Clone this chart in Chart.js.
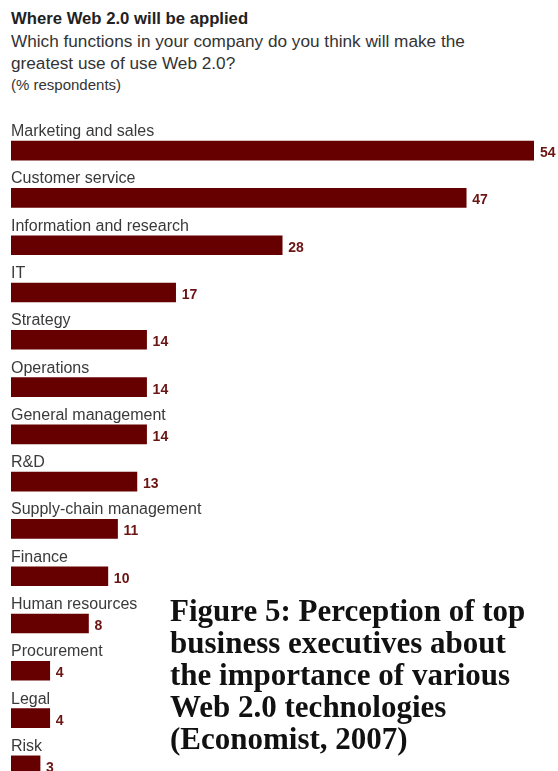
<!DOCTYPE html>
<html>
<head>
<meta charset="utf-8">
<script src="https://cdn.jsdelivr.net/npm/chart.js@4.4.1/dist/chart.umd.min.js"></script>
<style>
  html, body { margin: 0; padding: 0; background: #fff; }
  body { width: 558px; height: 771px; overflow: hidden; position: relative; }
  .head { position: absolute; left: 11px; top: 8px; color: #333; font-family: "Liberation Sans", Arial, sans-serif; }
  .head .t { font-weight: bold; font-size: 16.7px; line-height: 22px; color: #222; }
  .head .s { font-size: 17.2px; line-height: 22px; }
  .head .u { font-size: 15px; line-height: 22px; }
  #barChart { position: absolute; left: 0; top: 0; }
  .caption { position: absolute; left: 170px; top: 595px; white-space: nowrap; font-family: "Liberation Serif", "DejaVu Serif", serif; font-weight: bold; font-size: 31px; line-height: 32px; color: #111; }
</style>
</head>
<body>
<div class="head">
  <div class="t">Where Web 2.0 will be applied</div>
  <div class="s">Which functions in your company do you think will make the<br>greatest use of use Web 2.0?</div>
  <div class="u">(% respondents)</div>
</div>
<canvas id="barChart" width="558" height="800"></canvas>
<div class="caption">Figure 5: Perception of top<br>business executives about<br>the importance of various<br>Web 2.0 technologies<br>(Economist, 2007)</div>
<script>
// Functions and share of respondents (%)
const categories = ['Marketing and sales', 'Customer service', 'Information and research', 'IT', 'Strategy',
    'Operations', 'General management', 'R&D', 'Supply-chain management', 'Finance',
    'Human resources', 'Procurement', 'Legal', 'Risk'];
const respondents = [54, 47, 28, 17, 14, 14, 14, 13, 11, 10, 8, 4, 4, 3];

const barColor = '#660000';

// names go above each bar, values just after its end
const barLabels = {
    id: 'barLabels',
    afterDatasetsDraw(chart) {
        const ctx = chart.ctx;
        const meta = chart.getDatasetMeta(0);
        ctx.save();
        meta.data.forEach((bar, i) => {
            const half = bar.height / 2;
            ctx.textAlign = 'left';
            ctx.textBaseline = 'alphabetic';
            ctx.fillStyle = '#3a3a3a';
            ctx.font = '16px "Liberation Sans", Arial, sans-serif';
            ctx.fillText(categories[i], chart.chartArea.left, bar.y - half - 5);
            ctx.fillStyle = '#6b1414';
            ctx.font = 'bold 14px "Liberation Sans", Arial, sans-serif';
            ctx.fillText(respondents[i], bar.x + 6, bar.y + half - 3);
        });
        ctx.restore();
    }
};

const barChartCanvas = document.getElementById('barChart');

const barChart = new Chart(barChartCanvas, {
    type: 'bar',
    data: {
        labels: categories,
        datasets: [{
            data: respondents,
            backgroundColor: barColor,
            borderWidth: 0,
            barThickness: 19
        }]
    },
    options: {
        indexAxis: 'y',
        responsive: false,
        animation: false,
        layout: { padding: { left: 11, right: 24, top: 127, bottom: 11 } },
        scales: {
            x: { min: 0, max: 54, display: false },
            y: { display: false }
        },
        plugins: {
            legend: { display: false },
            tooltip: { enabled: false }
        }
    },
    plugins: [barLabels]
});
</script>
</body>
</html>
